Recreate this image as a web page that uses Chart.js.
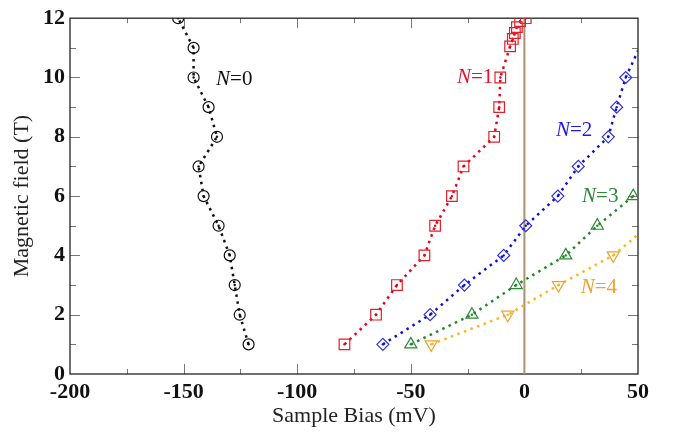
<!DOCTYPE html>
<html>
<head>
<meta charset="utf-8">
<script src="https://cdn.jsdelivr.net/npm/chart.js@4"></script>
<style>
  html, body { margin: 0; padding: 0; background: #fff; }
  #wrap { width: 675px; height: 433px; }
</style>
</head>
<body>
<div id="wrap"><canvas id="chart"></canvas></div>
<script>
// ------------------------------------------------------------
// Data (sample bias in mV, magnetic field in T)
// ------------------------------------------------------------
const n0Bias  = [-121.4, -125.3, -127.5, -129.7, -134.6, -141.2, -143.4, -135.3, -139.0, -145.6, -145.6, -152.4];
const n0Field = [1, 2, 3, 4, 5, 6, 7, 8, 9, 10, 11, 12];

const n1Bias  = [-79.2, -65.3, -56.1, -44.0, -39.3, -31.9, -26.8, -13.3, -11.1, -10.6, -6.3, -5.1, -4.2, -3.3, -1.9, 0.6];
const n1Field = [1, 2, 3, 4, 5, 6, 7, 8, 9, 10, 11.05, 11.3, 11.5, 11.7, 11.9, 12];

const n2Bias  = [-62.3, -41.5, -26.4, -9.1, 0.6, 14.7, 23.7, 36.9, 40.6, 44.6];
const n2Field = [1, 2, 3, 4, 5, 6, 7, 8, 9, 10];
const n2Tail  = [50, 10.9];   // dotted guide runs on to the frame

const n3Bias  = [-50.0, -23.1, -3.6, 18.2, 32.1, 47.9];
const n3Field = [1, 2, 3, 4, 5, 6];

const n4Bias  = [-41.0, -7.3, 15.0, 39.1];
const n4Field = [1, 2, 3, 4];
const n4Tail  = [50, 4.7];

const zeroBias  = [0, 0];
const zeroField = [0, 12];

// level labels "N=k"
const levelText  = ['0', '1', '2', '3', '4'];
const levelBias  = [-127.7, -21.7, 21.9, 33.4, 32.8];
const levelField = [9.92, 10.0, 8.2, 6.0, 2.92];
const levelColor = ['#111', '#e8102a', '#1a1ae0', '#2a8a35', '#f0a030'];

// ticks
const xTickValues = [-200, -150, -100, -50, 0, 50];
const yTickValues = [0, 2, 4, 6, 8, 10, 12];
const xMinorTicks = [-175, -125, -75, -25, 25];
const xMajorTicks = [-150, -100, -50, 0];
const yMinorTicks = [1, 3, 5, 7, 9, 11];
const yMajorTicks = [2, 4, 6, 8, 10];

// ------------------------------------------------------------
// helpers
// ------------------------------------------------------------
function pts(xs, ys) {
    return xs.map((x, i) => ({ x: x, y: ys[i] }));
}

function series(xs, ys, tail, color, markerColor, style, radius, rotation) {
    const line = pts(xs, ys);
    if (tail) line.push({ x: tail[0], y: tail[1] });
    return [
        {   // marker
            data: pts(xs, ys),
            showLine: false,
            pointStyle: style,
            pointRadius: radius,
            pointRotation: rotation || 0,
            pointBorderColor: markerColor,
            pointBackgroundColor: 'rgba(255,255,255,0)',
            pointBorderWidth: 1.2
        },
        {   // center dot
            data: pts(xs, ys),
            showLine: false,
            pointStyle: 'circle',
            pointRadius: 1.2,
            pointBorderWidth: 0,
            pointBackgroundColor: color
        },
        {   // dotted guide
            data: line,
            showLine: true,
            borderColor: color,
            borderWidth: 2.5,
            borderDash: [2.5, 4.5],
            pointRadius: 0,
            tension: 0
        }
    ];
}

// frame with inward ticks on all four sides
const framePlugin = {
    id: 'frame',
    beforeDatasetsDraw(chart) {
        const { ctx, chartArea: a, scales: { x, y } } = chart;
        ctx.save();
        ctx.strokeStyle = '#777';
        ctx.lineWidth = 1;
        ctx.beginPath();
        function vtick(v, len) {
            const px = Math.round(x.getPixelForValue(v)) + 0.5;
            ctx.moveTo(px, a.bottom); ctx.lineTo(px, a.bottom - len);
            ctx.moveTo(px, a.top);    ctx.lineTo(px, a.top + len);
        }
        function htick(v, len) {
            const py = Math.round(y.getPixelForValue(v)) + 0.5;
            ctx.moveTo(a.left, py);  ctx.lineTo(a.left + len, py);
            ctx.moveTo(a.right, py); ctx.lineTo(a.right - len, py);
        }
        xMajorTicks.forEach(v => vtick(v, 10));
        xMinorTicks.forEach(v => vtick(v, 5));
        yMajorTicks.forEach(v => htick(v, 10));
        yMinorTicks.forEach(v => htick(v, 6));
        ctx.stroke();
        ctx.strokeStyle = '#222';
        ctx.lineWidth = 1.3;
        ctx.strokeRect(a.left, a.top, a.right - a.left, a.bottom - a.top);
        ctx.restore();
    },
    afterDatasetsDraw(chart) {
        const { ctx, scales: { x, y } } = chart;
        ctx.save();
        ctx.textBaseline = 'middle';
        levelText.forEach((t, i) => {
            const italic = 'italic 21px "Liberation Serif"';
            const plain = '21px "Liberation Serif"';
            ctx.font = italic;
            const wN = ctx.measureText('N').width;
            ctx.font = plain;
            const wRest = ctx.measureText('=' + t).width;
            const cx = x.getPixelForValue(levelBias[i]);
            const cy = y.getPixelForValue(levelField[i]);
            const left = cx - (wN + wRest) / 2;
            ctx.fillStyle = levelColor[i];
            ctx.font = italic;
            ctx.fillText('N', left, cy);
            ctx.font = plain;
            ctx.fillText('=' + t, left + wN, cy);
        });
        ctx.restore();
    }
};

// ------------------------------------------------------------
// chart
// ------------------------------------------------------------
Chart.defaults.font.family = '"Liberation Serif", "DejaVu Serif", serif';
Chart.defaults.color = '#111';

const datasets = [].concat(
    series(n0Bias, n0Field, null, '#111', '#111', 'circle', 5.5),
    series(n1Bias, n1Field, null, '#e8001c', '#e0202a', 'rect', 7.5),
    series(n2Bias, n2Field, n2Tail, '#1010d0', '#3030e0', 'rectRot', 6),
    series(n3Bias, n3Field, null, '#1f8a25', '#2a8a35', 'triangle', 7),
    series(n4Bias, n4Field, n4Tail, '#f5b820', '#f0a030', 'triangle', 7, 180),
    [{
        data: pts(zeroBias, zeroField),
        showLine: true,
        borderColor: '#a89070',
        borderWidth: 2,
        pointRadius: 0
    }]
);

new Chart(document.getElementById('chart'), {
    type: 'scatter',
    data: { datasets: datasets },
    options: {
        responsive: true,
        maintainAspectRatio: false,
        animation: false,
        events: [],
        layout: { padding: { top: 12, right: 37, left: 0, bottom: 0 } },
        plugins: {
            legend: { display: false },
            tooltip: { enabled: false }
        },
        scales: {
            x: {
                type: 'linear',
                min: -200,
                max: 50,
                grid: { display: false, drawTicks: false },
                border: { display: false },
                afterBuildTicks: s => { s.ticks = xTickValues.map(v => ({ value: v })); },
                afterFit: s => { s.height = 59; },
                ticks: {
                    padding: 5,
                    color: '#111',
                    font: { size: 22, weight: 'bold' },
                    maxRotation: 0
                },
                title: {
                    display: true,
                    text: 'Sample Bias (mV)',
                    color: '#222',
                    font: { size: 22 },
                    padding: { top: 0, bottom: 4 }
                }
            },
            y: {
                type: 'linear',
                min: 0,
                max: 12,
                grid: { display: false, drawTicks: false },
                border: { display: false },
                afterBuildTicks: s => { s.ticks = yTickValues.map(v => ({ value: v })); },
                afterFit: s => { s.width = 70; },
                ticks: {
                    padding: 5,
                    color: '#111',
                    font: { size: 22, weight: 'bold' }
                },
                title: {
                    display: true,
                    text: 'Magnetic field (T)',
                    color: '#222',
                    font: { size: 22 },
                    padding: { top: 9, bottom: 0 }
                }
            }
        }
    },
    plugins: [framePlugin]
});
</script>
</body>
</html>
